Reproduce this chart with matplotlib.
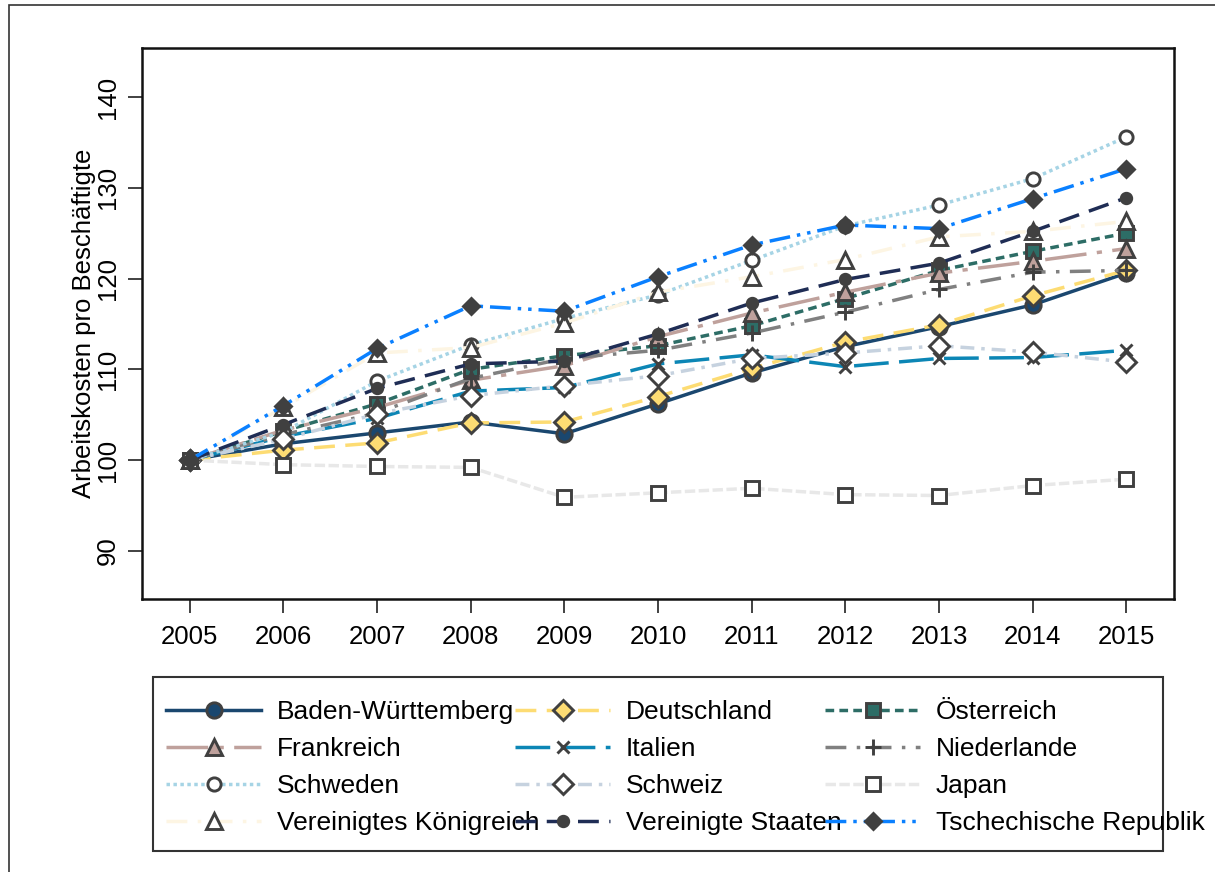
import matplotlib
matplotlib.use("Agg")
import matplotlib.pyplot as plt
from matplotlib.patches import Rectangle

plt.rcParams['font.family'] = ['Liberation Sans', 'DejaVu Sans']

jahre = list(range(2005, 2016))

# Index 2005 = 100
bw = [100, 101.8, 103.0, 104.2, 102.9, 106.2, 109.6, 112.5, 114.7, 117.1, 120.6]
de = [100, 101.1, 101.9, 104.1, 104.2, 107.0, 110.1, 113.0, 114.9, 118.1, 120.9]
at = [100, 103.2, 106.2, 110.0, 111.5, 112.6, 114.8, 117.8, 120.9, 123.0, 125.0]
fr = [100, 103.3, 105.8, 108.8, 110.4, 113.6, 116.2, 118.5, 120.6, 121.9, 123.3]
it = [100, 102.6, 104.6, 107.6, 108.0, 110.6, 111.6, 110.3, 111.2, 111.3, 112.1]
nl = [100, 102.8, 105.2, 109.0, 111.2, 112.1, 114.0, 116.3, 118.8, 120.7, 120.9]
se = [100, 103.1, 108.7, 112.7, 115.6, 118.2, 122.0, 125.8, 128.1, 131.0, 135.6]
ch = [100, 102.3, 105.1, 107.1, 108.2, 109.3, 111.2, 111.8, 112.6, 111.9, 110.8]
jp = [100, 99.5, 99.3, 99.2, 95.9, 96.4, 96.9, 96.2, 96.1, 97.2, 97.9]
uk = [100, 105.8, 111.8, 112.4, 115.1, 118.5, 120.2, 122.1, 124.6, 125.2, 126.3]
us = [100, 103.9, 107.9, 110.6, 110.9, 113.9, 117.3, 119.9, 121.7, 125.2, 128.9]
cz = [100, 106.0, 112.3, 117.0, 116.4, 120.2, 123.7, 125.9, 125.5, 128.8, 132.1]

namen = ["Baden-Württemberg", "Deutschland", "Österreich", "Frankreich", "Italien",
         "Niederlande", "Schweden", "Schweiz", "Japan", "Vereinigtes Königreich",
         "Vereinigte Staaten", "Tschechische Republik"]
werte = [bw, de, at, fr, it, nl, se, ch, jp, uk, us, cz]

kante = '#404040'
# farbe, linienstil, marker, markergroesse, fuellung
stile = [
    ('#1a476f', '-', 'o', 11, '#1a476f'),
    ('#fddc73', (0, (6, 3)), 'D', 10.5, '#fddc73'),
    ('#2d6d66', (0, (2.5, 1.5)), 's', 9.5, '#2d6d66'),
    ('#bfa19c', (0, (12, 3, 1.5, 3)), '^', 12, '#bfa19c'),
    ('#0c86b5', (0, (10, 3)), 'x', 9, kante),
    ('#808080', (0, (6, 3, 1, 3)), '+', 12, kante),
    ('#a6d4e5', (0, (1, 1)), 'o', 9.5, 'white'),
    ('#c6d2df', (0, (4, 2, 1, 2)), 'D', 10, 'white'),
    ('#e8e8e8', (0, (3, 1)), 's', 9.5, 'white'),
    ('#fdf5e3', (0, (6, 3, 1, 3)), '^', 11.5, 'white'),
    ('#1f2d55', (0, (6, 3)), 'o', 7.5, kante),
    ('#0a80ff', (0, (6, 2, 1, 2, 1, 2)), 'D', 8.5, kante),
]

fig = plt.figure(figsize=(12.15, 8.72), dpi=100)
ax = fig.add_axes([142 / 1215, 1 - 599 / 872, (1174 - 142) / 1215, (599 - 48) / 872])

linien = []
for name, y, (farbe, ls, m, ms, fc) in zip(namen, werte, stile):
    l, = ax.plot(jahre, y, color=farbe, linestyle=ls, linewidth=2.5,
                 marker=m, markersize=ms, markerfacecolor=fc,
                 markeredgecolor=kante, markeredgewidth=2.1, label=name)
    linien.append(l)

ax.set_xlim(2004.49, 2015.51)
ax.set_ylim(84.7, 145.4)
ax.set_xticks(jahre)
ax.set_yticks([90, 100, 110, 120, 130, 140])
ax.tick_params(axis='both', length=10, width=1.3, labelsize=18.5, color='#333333')
ax.tick_params(axis='x', pad=9)
ax.tick_params(axis='y', pad=6)
for t in ax.get_yticklabels():
    t.set_rotation(90)
    t.set_va('center')
ax.set_ylabel("Arbeitskosten pro Beschäftigte", fontsize=18.5, labelpad=0)
for s in ax.spines.values():
    s.set_linewidth(1.8)
    s.set_color('#111111')

# Legende: drei Spalten einzeln
spalten = [[0, 3, 6, 9], [1, 4, 7, 10], [2, 5, 8, 11]]
x_links = [166, 515, 825]
for sp, xl in zip(spalten, x_links):
    fig.legend([linien[i] for i in sp], [namen[i] for i in sp],
               loc='upper left', bbox_to_anchor=(xl / 1215, 1 - 700 / 872),
               frameon=False, fontsize=19, borderpad=0, borderaxespad=0,
               handlelength=3.6, handletextpad=0.6, labelspacing=0.49)

fig.add_artist(Rectangle((153 / 1215, 1 - 851 / 872), (1163 - 153) / 1215, (851 - 677) / 872,
                         transform=fig.transFigure, fill=False, linewidth=1.5,
                         edgecolor='#333333'))
# aeusserer Rahmen
fig.add_artist(Rectangle((9 / 1215, -0.2), 1.2, 1.2 - 5 / 872,
                         transform=fig.transFigure, fill=False, linewidth=1.2,
                         edgecolor='#333333'))

fig.savefig("out.png", dpi=100)
